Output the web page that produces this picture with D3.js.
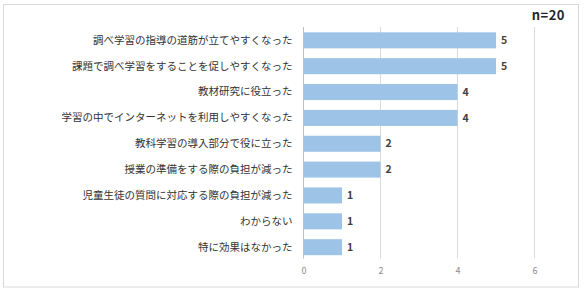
<!DOCTYPE html>
<html><head><meta charset="utf-8">
<script src="https://cdn.jsdelivr.net/npm/d3@7"></script>
<style>body{margin:0;background:#fff}svg{display:block}</style>
</head><body><svg id="c" width="584" height="290"></svg>
<script>
const categories = ["調べ学習の指導の道筋が立てやすくなった","課題で調べ学習をすることを促しやすくなった","教材研究に役立った","学習の中でインターネットを利用しやすくなった","教科学習の導入部分で役に立った","授業の準備をする際の負担が減った","児童生徒の質問に対応する際の負担が減った","わからない","特に効果はなかった"];
const values = [5,5,4,4,2,2,1,1,1];
const tickValues = [0,2,4,6];
const noteText = "n=20";

const svg = d3.select("#c");
const font = "'Noto Sans CJK JP','Noto Sans',sans-serif";
svg.append("rect").attr("x",3.5).attr("y",4.5).attr("width",575).attr("height",282.5)
  .attr("fill","#fff").attr("stroke","#d9d9d9");

const x = d3.scaleLinear().domain([0,6]).range([303.5,534.5]);
const y = d3.scaleBand().domain(categories).range([27.4,260.1]).paddingInner(0.38).paddingOuter(0.19);

svg.append("g").selectAll("line").data(tickValues.filter(d=>d>0)).join("line")
  .attr("x1",d=>x(d)).attr("x2",d=>x(d)).attr("y1",27).attr("y2",258.5)
  .attr("stroke","#d9d9d9").attr("stroke-width",1);

svg.append("g").selectAll("rect").data(values).join("rect")
  .attr("x",x(0)).attr("y",(d,i)=>y(categories[i]))
  .attr("width",d=>x(d)-x(0)).attr("height",y.bandwidth())
  .attr("fill","#9dc3e6");

svg.append("line").attr("x1",x(0)).attr("x2",x(0)).attr("y1",27).attr("y2",258.5)
  .attr("stroke","#bfbfbf");

const xAxis = d3.axisBottom(x).tickValues(tickValues).tickFormat(d3.format("d")).tickSize(0).tickPadding(0);
const xg = svg.append("g").attr("transform","translate(0,268)").call(xAxis);
xg.select(".domain").remove();
xg.selectAll("text").attr("font-family",font).attr("font-size",9).attr("fill","#8c8c8c").attr("dy","0.7em");

const yAxis = d3.axisLeft(y).tickSize(0).tickPadding(0);
const yg = svg.append("g").attr("transform","translate(292.5,0)").call(yAxis);
yg.select(".domain").remove();
yg.selectAll("text").attr("font-family",font).attr("font-size",10.5).attr("fill","#333333");

svg.append("g").selectAll("text").data(values).join("text")
  .attr("x",d=>x(d)+5).attr("y",(d,i)=>y(categories[i])+y.bandwidth()/2)
  .attr("dy","0.35em").attr("font-family",font).attr("font-size",10.5).attr("font-weight","bold")
  .attr("fill","#404040").text(d=>d);

svg.append("text").attr("x",565).attr("y",15).attr("dy","0.35em").attr("text-anchor","end")
  .attr("font-family",font).attr("font-size",13).attr("font-weight","bold").attr("letter-spacing",0.5)
  .attr("fill","#262626").text(noteText);
</script></body></html>
